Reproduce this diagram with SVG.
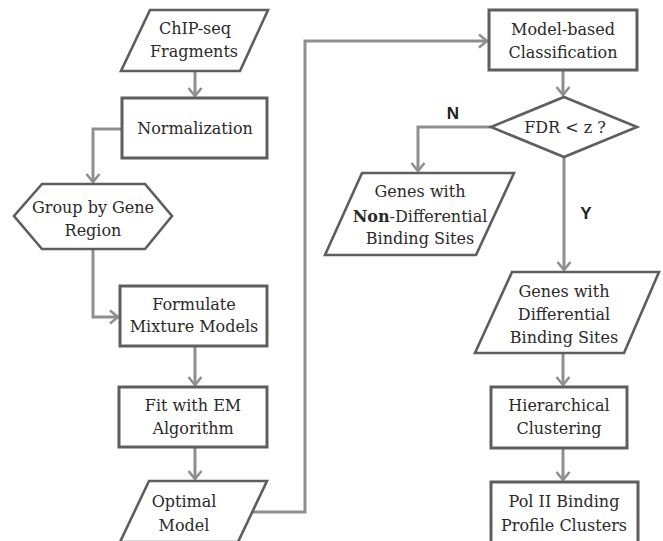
<svg xmlns="http://www.w3.org/2000/svg" width="663" height="541" viewBox="0 0 663 541">
<style>
.n{fill:#fff;stroke:#5e5e5e;stroke-width:3}
.p{fill:#fff;stroke:#5e5e5e;stroke-width:2.6}
.c{fill:none;stroke:#8f8f8f;stroke-width:3}
</style>
<defs>
<marker id="arr" markerUnits="userSpaceOnUse" markerWidth="16" markerHeight="16" refX="11" refY="8" orient="auto" viewBox="0 0 16 16">
<path d="M3,1.5 L11,8 L3,14.5" fill="none" stroke="#8f8f8f" stroke-width="2.6"/>
</marker>
</defs>
<rect width="663" height="541" fill="#fff"/>
<g id="connectors">
<path class="c" d="M195,72 V96" marker-end="url(#arr)"/>
<path class="c" d="M122,129 H93 V182" marker-end="url(#arr)"/>
<path class="c" d="M93,249 V317 H118" marker-end="url(#arr)"/>
<path class="c" d="M195,347 V385" marker-end="url(#arr)"/>
<path class="c" d="M195,448 V479" marker-end="url(#arr)"/>
<path class="c" d="M253,512 H305 V41 H487" marker-end="url(#arr)"/>
<path class="c" d="M563,71 V95" marker-end="url(#arr)"/>
<path class="c" d="M491,127 H418 V171" marker-end="url(#arr)"/>
<path class="c" d="M564,157 V270" marker-end="url(#arr)"/>
<path class="c" d="M563,354 V385" marker-end="url(#arr)"/>
<path class="c" d="M563,449 V480" marker-end="url(#arr)"/>
<g font-family="Liberation Sans, Arial, sans-serif" font-size="17" font-weight="bold" fill="#222" text-anchor="middle">
<text x="453" y="119">N</text>
<text x="586" y="219">Y</text>
</g>
</g>
<g font-family="DejaVu Serif, serif" font-size="16" fill="#2a2a2a" text-anchor="middle">
<g id="chipseq">
<polygon class="p" points="150,10 268,10 240,71 121,71"/>
<text x="195" y="34">ChIP-seq</text>
<text x="194" y="57">Fragments</text>
</g>
<g id="normalization">
<rect class="n" x="122" y="98" width="145" height="60"/>
<text x="195" y="134">Normalization</text>
</g>
<g id="group">
<polygon class="p" points="42,184 145,184 172,216 145,249 42,249 14,216"/>
<text x="93" y="213">Group by Gene</text>
<text x="93" y="236">Region</text>
</g>
<g id="formulate">
<rect class="n" x="120" y="286" width="147" height="60"/>
<text x="194" y="310">Formulate</text>
<text x="194" y="332">Mixture Models</text>
</g>
<g id="fit">
<rect class="n" x="119" y="387" width="148" height="60"/>
<text x="193" y="411">Fit with EM</text>
<text x="193" y="434">Algorithm</text>
</g>
<g id="optimal">
<polygon class="p" points="149,481 267,481 238,542 120,542"/>
<text x="184" y="507">Optimal</text>
<text x="184" y="531">Model</text>
</g>
<g id="modelbased">
<rect class="n" x="489" y="10" width="148" height="60"/>
<text x="563" y="35">Model-based</text>
<text x="563" y="58">Classification</text>
</g>
<g id="fdr">
<polygon class="p" points="564,97 637,127 564,157 491,127"/>
<text x="565" y="133">FDR &lt; z ?</text>
</g>
<g id="nondiff">
<polygon class="p" points="362,173 514,173 476,255 325,255"/>
<text x="420" y="197">Genes with</text>
<text x="420" y="222"><tspan font-weight="bold">Non</tspan>-Differential</text>
<text x="420" y="244">Binding Sites</text>
</g>
<g id="diff">
<polygon class="p" points="512,272 659,272 624,353 475,353"/>
<text x="564" y="297">Genes with</text>
<text x="564" y="320">Differential</text>
<text x="564" y="343">Binding Sites</text>
</g>
<g id="hier">
<rect class="n" x="491" y="387" width="136" height="61"/>
<text x="559" y="411">Hierarchical</text>
<text x="559" y="434">Clustering</text>
</g>
<g id="pol2">
<rect class="n" x="491" y="482" width="147" height="70"/>
<text x="564" y="507">Pol II Binding</text>
<text x="564" y="531">Profile Clusters</text>
</g>
</g>
</svg>
